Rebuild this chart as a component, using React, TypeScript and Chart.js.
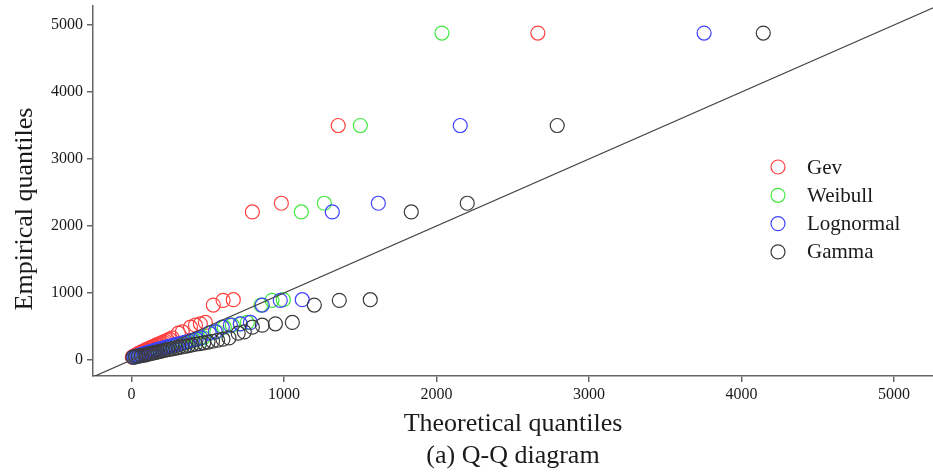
import React, { useEffect, useRef } from 'react';
import { Chart, registerables } from 'chart.js';

Chart.register(...registerables);

// Empirical quantiles (shared y values)
const EMPIRICAL = [4880, 3500, 2340, 2210, 900, 890, 820, 560, 540, 520, 490, 420, 400,
  330, 310, 295, 280, 268, 256, 245, 235, 225, 215, 205, 196, 187, 178, 170, 162, 154, 146,
  138, 130, 122, 114, 106, 98, 90, 82, 74, 66, 58, 50, 42];

// Theoretical quantiles per distribution
const GEV = [2665, 1356, 983, 793, 668, 601, 537, 485, 452, 420, 387, 334, 308,
  268, 250, 236, 222, 210, 198, 187, 177, 167, 157, 148, 139, 130, 122, 114, 106, 98, 91,
  84, 77, 70, 63, 56, 49, 42, 36, 30, 24, 18, 12, 6];
const WEIBULL = [2036, 1501, 1265, 1114, 996, 922, 850, 760, 714, 662, 609, 560, 520,
  470, 440, 415, 392, 370, 350, 330, 312, 295, 278, 262, 247, 232, 218, 204, 191, 178, 166,
  154, 142, 130, 118, 107, 96, 85, 74, 63, 52, 41, 30, 19];
const LOGNORMAL = [3755, 2156, 1619, 1317, 1120, 976, 858, 780, 714, 649, 596, 550, 510,
  455, 425, 400, 378, 357, 337, 318, 300, 283, 267, 251, 236, 222, 208, 195, 182, 169, 157,
  145, 133, 122, 111, 100, 89, 78, 67, 57, 47, 37, 27, 17];
const GAMMA = [4143, 2792, 2202, 1835, 1566, 1363, 1199, 1055, 944, 858, 793, 740, 700,
  640, 600, 565, 532, 502, 474, 447, 421, 397, 374, 352, 331, 311, 292, 273, 255, 238, 221,
  205, 189, 174, 159, 144, 130, 116, 102, 88, 66, 46, 28, 10];

const SERIES_NAMES = ['Gev', 'Weibull', 'Lognormal', 'Gamma'];
const SERIES_VALUES = [GEV, WEIBULL, LOGNORMAL, GAMMA];
const SERIES_COLORS = ['#ff4040', '#40e840', '#4040ff', '#3a3a3a'];

const X_TICKS = [0, 1000, 2000, 3000, 4000, 5000];
const Y_TICKS = [0, 1000, 2000, 3000, 4000, 5000];
const X_RANGE = [-252, 5256];
const Y_RANGE = [-239, 5284];
const REF_LINE = [-300, 5400];

const FONT = "'Liberation Serif', 'Times New Roman', serif";

const overlayPlugin = {
  id: 'qqOverlay',
  afterDraw(chart: any) {
    const ctx = chart.ctx;
    ctx.save();
    // y axis title
    ctx.fillStyle = '#1a1a1a';
    ctx.font = `26px ${FONT}`;
    ctx.textAlign = 'center';
    ctx.textBaseline = 'middle';
    ctx.translate(25, 209);
    ctx.rotate(-Math.PI / 2);
    ctx.fillText('Empirical quantiles', 0, 0);
    ctx.restore();

    // legend
    ctx.save();
    ctx.font = `21px ${FONT}`;
    ctx.textAlign = 'left';
    ctx.textBaseline = 'middle';
    SERIES_NAMES.forEach((name, i) => {
      const y = 167 + i * 28.3;
      ctx.beginPath();
      ctx.arc(778, y, 7, 0, Math.PI * 2);
      ctx.strokeStyle = SERIES_COLORS[i];
      ctx.lineWidth = 1.2;
      ctx.stroke();
      ctx.fillStyle = '#1a1a1a';
      ctx.fillText(name, 807, y + 1);
    });
    ctx.restore();
  },
};

export default function App() {
  const ref = useRef<HTMLCanvasElement>(null);

  useEffect(() => {
    if (!ref.current) return;
    const datasets: any[] = SERIES_NAMES.map((name, i) => ({
      type: 'scatter',
      label: name,
      data: SERIES_VALUES[i].map((x, j) => ({ x, y: EMPIRICAL[j] })),
      pointStyle: 'circle',
      pointRadius: 7,
      pointBorderWidth: 1.2,
      pointBorderColor: SERIES_COLORS[i],
      pointBackgroundColor: 'rgba(0,0,0,0)',
      borderColor: SERIES_COLORS[i],
      backgroundColor: 'rgba(0,0,0,0)',
      showLine: false,
      order: 4 - i,
    }));
    datasets.push({
      type: 'line',
      label: 'ref',
      data: REF_LINE.map((v) => ({ x: v, y: v })),
      borderColor: '#444444',
      borderWidth: 1.2,
      pointRadius: 0,
      fill: false,
      order: 0,
    });

    const chart = new Chart(ref.current, {
      type: 'scatter',
      data: { datasets },
      plugins: [overlayPlugin],
      options: {
        animation: false,
        responsive: false,
        events: [],
        layout: { autoPadding: false, padding: { top: 6, left: 0, right: 0, bottom: 0 } },
        plugins: {
          legend: { display: false },
          tooltip: { enabled: false },
          title: { display: false },
        },
        scales: {
          x: {
            type: 'linear',
            min: X_RANGE[0],
            max: X_RANGE[1],
            afterBuildTicks: (s: any) => {
              s.ticks = X_TICKS.map((v) => ({ value: v }));
            },
            afterFit: (s: any) => {
              s.height = 97;
              s.paddingLeft = 0;
              s.paddingRight = 0;
            },
            ticks: {
              autoSkip: false,
              maxRotation: 0,
              padding: 3,
              color: '#1a1a1a',
              font: { family: FONT, size: 16 },
              callback: (v: any) => String(v),
            },
            grid: {
              display: true,
              drawOnChartArea: false,
              drawTicks: true,
              tickLength: 6,
              color: '#666666',
              lineWidth: 1.5,
            },
            border: { display: true, color: '#666666', width: 1.5 },
            title: {
              display: true,
              text: ['Theoretical quantiles', '(a) Q-Q diagram'],
              color: '#1a1a1a',
              font: { family: FONT, size: 26, lineHeight: 32 / 26 },
              padding: { top: 0, bottom: 1 },
            },
          },
          y: {
            type: 'linear',
            min: Y_RANGE[0],
            max: Y_RANGE[1],
            afterBuildTicks: (s: any) => {
              s.ticks = Y_TICKS.map((v) => ({ value: v }));
            },
            afterFit: (s: any) => {
              s.width = 93;
              s.paddingTop = 0;
              s.paddingBottom = 0;
            },
            ticks: {
              autoSkip: false,
              padding: 4,
              color: '#1a1a1a',
              font: { family: FONT, size: 16 },
              callback: (v: any) => String(v),
            },
            grid: {
              display: true,
              drawOnChartArea: false,
              drawTicks: true,
              tickLength: 6,
              color: '#666666',
              lineWidth: 1.5,
            },
            border: { display: true, color: '#666666', width: 1.5 },
            title: { display: false },
          },
        },
      } as any,
    });
    return () => chart.destroy();
  }, []);

  return (
    <div style={{ position: 'fixed', left: 0, top: 0, width: 933, height: 473, background: '#ffffff' }}>
      <canvas ref={ref} width={933} height={473} style={{ width: 933, height: 473, display: 'block' }} />
    </div>
  );
}
